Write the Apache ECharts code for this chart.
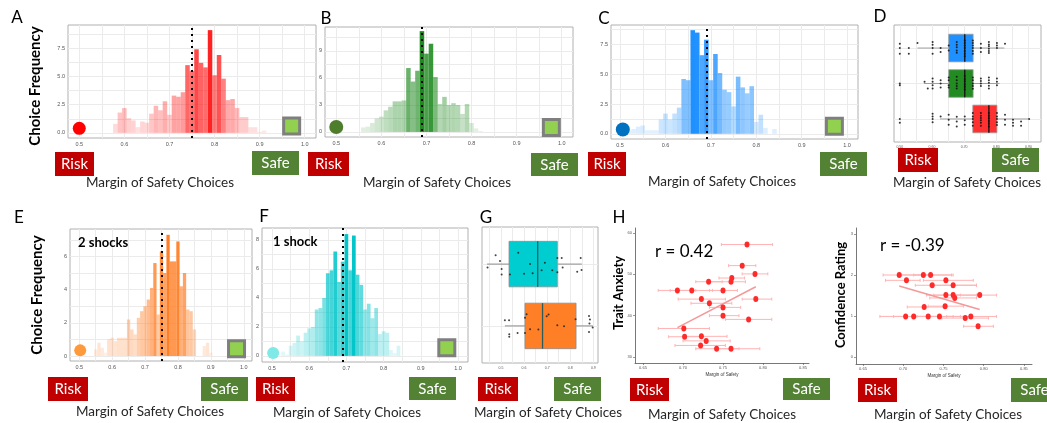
<!DOCTYPE html>
<html><head><meta charset="utf-8">
<script src="https://cdn.jsdelivr.net/npm/echarts@6/dist/echarts.min.js"></script>
<style>html,body{margin:0;padding:0;background:#fff}#c{width:1047px;height:423px}</style>
</head><body><div id="c"></div>
<script>
// ---------------- DATA ----------------
const binsA = [0.58,0.59,0.60,0.61,0.62,0.63,0.64,0.65,0.66,0.67,0.68,0.69,0.70,0.71,0.72,0.73,0.74,0.75,0.76,0.77,0.78,0.79,0.80,0.81,0.82,0.83,0.84,0.85,0.86,0.87,0.88,0.89,0.90,0.91];
const countsA = [0.8,1.8,2.2,1.3,1.1,0.5,1.0,0.9,1.7,2.4,2.0,2.8,1.6,3.3,3.2,3.6,6.0,5.5,7.4,6.2,5.8,9.1,5.1,6.9,4.8,2.9,3.0,2.2,1.4,1.4,0.5,0.5,0.1,0.2];
const binsB = [0.56,0.57,0.58,0.59,0.60,0.61,0.62,0.63,0.64,0.65,0.66,0.67,0.68,0.69,0.70,0.71,0.72,0.73,0.74,0.75,0.76,0.77,0.78,0.79,0.80,0.81,0.82];
const countsB = [0.5,0.6,1.0,1.5,1.7,2.4,2.8,3.4,3.4,3.5,7.1,5.6,6.8,11.2,8.7,9.8,6.1,3.1,3.9,3.0,3.2,3.0,2.0,3.1,1.0,0.4,0.1];
const binsC = [0.52,0.53,0.54,0.55,0.56,0.57,0.58,0.59,0.60,0.61,0.62,0.63,0.64,0.65,0.66,0.67,0.68,0.69,0.70,0.71,0.72,0.73,0.74,0.75,0.76,0.77,0.78,0.79,0.80,0.81,0.82,0.83,0.84];
const countsC = [0.3,0.4,0.6,0.7,0.3,0.3,0.3,1.2,1.7,1.2,1.7,2.2,4.6,4.5,8.7,8.5,6.6,7.9,4.5,6.7,5.1,3.7,3.5,2.3,4.8,3.9,3.4,4.0,1.0,1.6,0.5,0.0,0.4];
const binsE = [0.55,0.56,0.57,0.58,0.59,0.60,0.61,0.62,0.63,0.64,0.65,0.66,0.67,0.68,0.69,0.70,0.71,0.72,0.73,0.74,0.75,0.76,0.77,0.78,0.79,0.80,0.81,0.82,0.83,0.84,0.85,0.86,0.87,0.88,0.89,0.90];
const countsE = [0.4,0.8,0.5,0.2,1.0,1.1,0.9,1.1,1.1,1.1,2.2,1.6,1.3,2.3,2.7,3.0,3.4,4.1,5.6,2.5,6.3,5.0,7.3,5.7,5.7,6.9,4.2,5.0,2.8,2.7,1.6,0,0,0.6,0.8,0.2];
const binsF = [0.53,0.54,0.55,0.56,0.57,0.58,0.59,0.60,0.61,0.62,0.63,0.64,0.65,0.66,0.67,0.68,0.69,0.70,0.71,0.72,0.73,0.74,0.75,0.76,0.77,0.78,0.79,0.80,0.81,0.82,0.83,0.84];
const countsF = [0.3,0.1,0.7,0.9,1.4,1.0,1.6,1.9,2.0,3.2,3.3,4.0,5.7,5.9,7.2,5.1,6.5,8.4,5.9,8.3,5.6,4.9,3.2,3.6,2.6,3.3,1.5,1.7,1.6,0.4,0.2,0.7];
const meanA = 0.752, meanB = 0.690, meanC = 0.691, meanE = 0.7525, meanF = 0.690;
const riskPtA = [0.5, 0.4], safePtA = [0.971, 0.6];
const riskPtB = [0.5, 0.55], safePtB = [0.977, 0.5];
const riskPtC = [0.506, 0.36], safePtC = [0.972, 0.64];
const riskPtE = [0.503, 0.34], safePtE = [0.978, 0.44];
const riskPtF = [0.503, 0.2], safePtF = [0.97, 0.56];

const histXTicks = [0.5,0.6,0.7,0.8,0.9,1.0];
const histXGrid = [0.5,0.55,0.6,0.65,0.7,0.75,0.8,0.85,0.9,0.95,1.0];
const yTicksA = [0,2.5,5,7.5], yGridA = [0,1.25,2.5,3.75,5,6.25,7.5,8.75];
const yTicksB = [0,3,6,9], yGridB = [0,1.5,3,4.5,6,7.5,9,10.5];
const yTicksE = [0,2,4,6], yGridE = [0,1,2,3,4,5,6,7];
const yTicksF = [0,2,4,6,8], yGridF = [0,1,2,3,4,5,6,7,8];

// Panel D: box stats [group, lo, q1, median, q3, hi]
const dStats = [[3,0.555,0.652,0.702,0.728,0.825],[2,0.575,0.652,0.702,0.728,0.81],[1,0.625,0.727,0.777,0.802,0.90]];
const dBlueX = [0.5,0.5,0.5,0.528,0.528,0.555,0.602,0.602,0.602,0.602,0.627,0.627,0.652,0.652,0.677,0.677,0.677,0.677,0.677,0.702,0.702,0.702,0.702,0.702,0.702,0.702,0.727,0.727,0.727,0.727,0.727,0.727,0.752,0.752,0.752,0.777,0.777,0.777,0.777,0.777,0.777,0.802,0.802,0.802,0.827];
const dBlueJ = [0.12,0,-0.16,0,-0.16,0.14,0.17,0.09,0,-0.16,0,-0.11,0.07,-0.07,0.17,0.09,0.02,-0.07,-0.13,0.21,0.14,0.07,0,-0.08,-0.16,-0.23,0.21,0.14,0.07,0,-0.08,-0.16,0.12,0,-0.11,0.17,0.10,0.05,-0.02,-0.08,-0.14,0.14,0.07,0,0.12];
const dGreenX = [0.5,0.5,0.577,0.587,0.602,0.602,0.602,0.602,0.627,0.627,0.627,0.652,0.652,0.652,0.652,0.677,0.677,0.677,0.677,0.677,0.702,0.702,0.702,0.702,0.702,0.702,0.727,0.727,0.727,0.727,0.727,0.752,0.752,0.752,0.752,0.777,0.777,0.777,0.777,0.777,0.802,0.802,0.802];
const dGreenJ = [0,-0.05,0.05,-0.14,0.14,0.05,-0.05,-0.14,0.09,0,-0.11,0.17,0.09,-0.05,-0.11,0.19,0.09,0,-0.07,-0.14,0.21,0.13,0.06,-0.02,-0.09,-0.17,0.17,0.09,0,-0.07,-0.15,0.14,0.07,0,-0.07,0.17,0.09,0.02,-0.06,-0.14,0.14,0.05,-0.05];
const dRedX = [0.5,0.5,0.602,0.602,0.602,0.602,0.627,0.652,0.652,0.652,0.677,0.677,0.677,0.702,0.702,0.702,0.727,0.727,0.727,0.727,0.727,0.752,0.752,0.752,0.752,0.752,0.752,0.777,0.777,0.777,0.777,0.777,0.777,0.802,0.802,0.802,0.802,0.802,0.827,0.827,0.827,0.852,0.852,0.852,0.877,0.877,0.902];
const dRedJ = [0,-0.11,0.15,0.07,0,-0.09,0.07,0.12,-0.02,-0.16,0.06,-0.07,-0.21,0.07,-0.04,-0.16,0.17,0.07,0,-0.09,-0.19,0.17,0.09,0.03,-0.04,-0.11,-0.19,0.17,0.09,0.02,-0.06,-0.13,-0.21,0.17,0.07,0,-0.09,-0.17,0.12,-0.02,-0.16,-0.02,-0.11,-0.19,-0.07,-0.19,0];
const dTicks = [0.5,0.6,0.7,0.8,0.9];
const dGrid = [0.5,0.55,0.6,0.65,0.7,0.75,0.8,0.85,0.9];

// Panel G
const gStats = [[2,0.44,0.535,0.659,0.744,0.85],[1,0.517,0.604,0.680,0.825,0.898]];
const gCyanX = [0.477,0.496,0.442,0.503,0.503,0.575,0.539,0.600,0.626,0.637,0.690,0.676,0.722,0.744,0.763,0.767,0.744,0.830,0.849,0.845];
const gCyanJ = [0.145,0.048,-0.054,-0.081,-0.167,0.183,-0.167,-0.156,0,-0.15,0.02,-0.10,-0.10,0.10,0.10,-0.054,-0.134,-0.124,-0.097,0.10];
const gOrangeX = [0.517,0.535,0.536,0.536,0.572,0.604,0.611,0.604,0.626,0.662,0.698,0.706,0.744,0.773,0.823,0.881,0.885,0.883,0.897,0.881];
const gOrangeJ = [0.091,0.091,-0.134,-0.177,-0.113,0.134,0.188,-0.113,-0.054,-0.059,0.156,0.183,0.01,-0.005,0.108,0.161,0.102,0.038,-0.027,-0.097];
const gTicks = [0.5,0.6,0.7,0.8,0.9];
const gGrid = [0.45,0.5,0.55,0.6,0.65,0.7,0.75,0.8,0.85,0.9];

// Panel H (trait anxiety)
const h1X = [0.780,0.774,0.790,0.761,0.760,0.732,0.693,0.711,0.750,0.723,0.733,0.791,0.750,0.750,0.782,0.701,0.702,0.723,0.729,0.722,0.742,0.760];
const h1Y = [57.2,52.1,50.1,49.1,48.2,48.2,46.1,46.1,46.1,44.0,43.0,44.0,42.0,40.0,39.1,36.9,34.9,35.0,33.9,32.8,32.0,32.0];
const h1Lo = [0.748,0.757,0.774,0.745,0.733,0.716,0.669,0.684,0.733,0.694,0.710,0.774,0.733,0.733,0.753,0.669,0.682,0.702,0.700,0.690,0.716,0.741];
const h1Hi = [0.812,0.791,0.806,0.777,0.778,0.749,0.716,0.737,0.768,0.753,0.761,0.811,0.772,0.770,0.811,0.733,0.723,0.755,0.759,0.753,0.770,0.796];
const h1Fit = [[0.693,37.1],[0.791,47.0]];
const h1YTicks = [30,40,50,60];
// Panel H (confidence)
const h2X = [0.695,0.725,0.734,0.704,0.753,0.736,0.762,0.753,0.762,0.764,0.795,0.726,0.752,0.703,0.713,0.731,0.745,0.777,0.784,0.793];
const h2Y = [2.0,2.0,2.0,1.87,1.87,1.75,1.75,1.51,1.51,1.44,1.51,1.22,1.24,0.99,0.99,0.99,0.99,0.95,0.99,0.75];
const h2Lo = [0.675,0.698,0.713,0.678,0.725,0.715,0.733,0.729,0.738,0.733,0.762,0.705,0.731,0.671,0.688,0.711,0.717,0.748,0.754,0.775];
const h2Hi = [0.733,0.760,0.762,0.721,0.787,0.791,0.791,0.771,0.791,0.791,0.816,0.754,0.775,0.733,0.746,0.762,0.771,0.806,0.816,0.812];
const h2Fit = [[0.695,1.73],[0.795,1.16]];
const h2YTicks = [0,1,2,3];
const hXTicks = [0.65,0.70,0.75,0.80,0.85];

// ---------------- LAYOUT ----------------
const grids = [
 {left:68, top:25, width:248, height:113},   // A 0
 {left:325, top:27, width:248, height:110},  // B 1
 {left:611, top:25, width:247, height:114},  // C 2
 {left:894, top:25, width:147, height:117},  // D 3
 {left:70, top:229, width:182, height:132},  // E 4
 {left:262, top:228, width:206, height:134}, // F 5
 {left:482, top:227, width:116, height:136}, // G 6
 {left:635, top:228, width:174, height:135}, // H1 7
 {left:856, top:228, width:176, height:136}  // H2 8
].map((g,i)=>Object.assign({show:i<7, borderColor:'#b0b0b0', borderWidth:1, backgroundColor:'#fff', containLabel:false}, g));

const xAxes = [], yAxes = [], series = [];
const GRIDC = '#ebebeb';
function fwAxis(gi, min, max, ticks, gridVals, fs, fmt, show) {
  return {type:'value', gridIndex:gi, min, max,
    axisLine:{show:false, onZero:false},
    axisTick:{show:false, customValues:gridVals},
    axisLabel:{show:show!==false, customValues:ticks, fontSize:fs, color:'#555', margin:3, formatter:fmt},
    splitLine:{show:true, lineStyle:{color:GRIDC, width:1}}};
}
function histPanel(gi, xr, yr, yTicks, yGrid, yFmt, bins, counts, color, mean, riskPt, riskSize, riskColor, safePt) {
  xAxes.push(fwAxis(gi,xr[0],xr[1],histXTicks,histXGrid,5.5,v=>v.toFixed(1)));
  yAxes.push(fwAxis(gi,yr[0],yr[1],yTicks,yGrid,5.5,yFmt));
  const mx = Math.max(...counts), mn = Math.min(...counts);
  series.push({type:'custom', xAxisIndex:gi, yAxisIndex:gi, z:2,
    data: bins.map((b,i)=>[b, counts[i]]),
    renderItem:(p, api)=>{
      const x = api.value(0), y = api.value(1);
      const a = api.coord([x-0.005, y]), b = api.coord([x+0.005, 0]);
      return {type:'rect', shape:{x:a[0], y:a[1], width:b[0]-a[0], height:b[1]-a[1]},
        style:{fill:color, opacity:0.1+0.9*(y-mn)/(mx-mn)}};
    }});
  series.push({type:'line', xAxisIndex:gi, yAxisIndex:gi, data:[], z:5,
    markLine:{silent:true, symbol:['none','none'], label:{show:false}, animation:false,
      lineStyle:{color:'#000', type:[2,4], width:2, cap:'butt'}, data:[{xAxis:mean}]}});
  series.push({type:'scatter', xAxisIndex:gi, yAxisIndex:gi, data:[riskPt], symbolSize:riskSize, itemStyle:{color:riskColor, opacity:1}, z:6});
  series.push({type:'scatter', xAxisIndex:gi, yAxisIndex:gi, data:[safePt], symbol:'rect', symbolSize:16,
    itemStyle:{color:'#92d050', borderColor:'#7f7f7f', borderWidth:3, opacity:1}, z:6});
}
histPanel(0,[0.475,1.025],[-0.455,9.555],yTicksA,yGridA,v=>v.toFixed(1),binsA,countsA,'#ff2222',meanA,riskPtA,13,'#ff0000',safePtA);
histPanel(1,[0.475,1.025],[-0.56,11.66],yTicksB,yGridB,v=>v.toFixed(0),binsB,countsB,'#1f8a1f',meanB,riskPtB,14,'#4e7d2c',safePtB);
histPanel(2,[0.48,1.024],[-0.435,9.135],yTicksA,yGridA,v=>v.toFixed(1),binsC,countsC,'#1e90ff',meanC,riskPtC,14,'#0070c0',safePtC);

// Panel D
xAxes.push(fwAxis(3,0.482,0.939,dTicks,dGrid,3.5,v=>v.toFixed(2)));
yAxes.push(fwAxis(3,0.35,3.65,[],[1,2,3],3.5,v=>v,false));

function boxSeries(gi, stats, colors, halfH, medColor, edgeColor) {
  return {type:'custom', xAxisIndex:gi, yAxisIndex:gi, z:3, data:stats,
    renderItem:(p, api)=>{
      const g = api.value(0), lo = api.value(1), q1 = api.value(2), md = api.value(3), q3 = api.value(4), hi = api.value(5);
      const c1 = api.coord([q1, g+halfH]), c3 = api.coord([q3, g-halfH]);
      const pl = api.coord([lo, g]), pq1 = api.coord([q1, g]), pq3 = api.coord([q3, g]), ph = api.coord([hi, g]);
      const m1 = api.coord([md, g+halfH]), m2 = api.coord([md, g-halfH]);
      return {type:'group', children:[
        {type:'line', shape:{x1:pl[0],y1:pl[1],x2:pq1[0],y2:pq1[1]}, style:{stroke:edgeColor, lineWidth:1}},
        {type:'line', shape:{x1:pq3[0],y1:pq3[1],x2:ph[0],y2:ph[1]}, style:{stroke:edgeColor, lineWidth:1}},
        {type:'rect', shape:{x:c1[0], y:c1[1], width:c3[0]-c1[0], height:c3[1]-c1[1]}, style:{fill:colors[p.dataIndex], stroke:edgeColor, lineWidth:0.8}},
        {type:'line', shape:{x1:m1[0],y1:m1[1],x2:m2[0],y2:m2[1]}, style:{stroke:medColor, lineWidth:1.3}}
      ]};
    }};
}
series.push(boxSeries(3, dStats, ['#1e90ff','#228b22','#ff3030'], 0.39, '#111', '#a0a0a0'));
function jitter(gi, xs, js, grp, size, color) {
  return {type:'scatter', xAxisIndex:gi, yAxisIndex:gi, z:4, symbolSize:size, itemStyle:{color, opacity:0.85},
    data: xs.map((v,i)=>[v, grp + js[i]])};
}
series.push(jitter(3, dBlueX, dBlueJ, 3, 2, '#111'));
series.push(jitter(3, dGreenX, dGreenJ, 2, 2, '#111'));
series.push(jitter(3, dRedX, dRedJ, 1, 2, '#111'));

histPanel(4,[0.472,1.025],[-0.3,7.65],yTicksE,yGridE,v=>v.toFixed(0),binsE,countsE,'#ff7f27',meanE,riskPtE,12,'#ff9a3c',safePtE);
histPanel(5,[0.473,1.027],[-0.42,8.82],yTicksF,yGridF,v=>v.toFixed(0),binsF,countsF,'#00c5c9',meanF,riskPtF,12,'#7ee9e6',safePtF);

// Panel G
xAxes.push(fwAxis(6,0.418,0.92,gTicks,gGrid,3.5,v=>v.toFixed(1)));
yAxes.push(fwAxis(6,0.4,2.6,[],[1,2],3.5,v=>v,false));
series.push(boxSeries(6, gStats, ['#00cdd0','#ff7f27'], 0.368, '#2b5b5b', '#8c8c8c'));
series.push(jitter(6, gCyanX, gCyanJ, 2, 2, '#222'));
series.push(jitter(6, gOrangeX, gOrangeJ, 1, 2, '#222'));

// Panel H
function classicAxis(gi, min, max, ticks, fmt, name) {
  return {type:'value', gridIndex:gi, min, max,
    axisLine:{show:true, onZero:false, lineStyle:{color:'#555', width:0.8}},
    axisTick:{show:true, length:2, customValues:ticks, lineStyle:{color:'#555', width:0.6}},
    axisLabel:{customValues:ticks, fontSize:4, color:'#555', margin:3, formatter:fmt},
    splitLine:{show:false},
    name: name || '', nameLocation:'middle', nameGap:9, nameTextStyle:{fontSize:4.5, color:'#333'}};
}
function scatterPanel(gi, xr, yr, yTicks, xs, ys, lo, hi, fit) {
  xAxes.push(classicAxis(gi, xr[0], xr[1], hXTicks, v=>v.toFixed(2), 'Margin of Safety'));
  yAxes.push(classicAxis(gi, yr[0], yr[1], yTicks, v=>String(v)));
  series.push({type:'custom', xAxisIndex:gi, yAxisIndex:gi, z:2,
    data: xs.map((v,i)=>[v, ys[i], lo[i], hi[i]]),
    renderItem:(p, api)=>{
      const y = api.value(1);
      const a = api.coord([api.value(2), y]), b = api.coord([api.value(3), y]);
      const st = {stroke:'#ffb3b3', lineWidth:1};
      return {type:'group', children:[
        {type:'line', shape:{x1:a[0],y1:a[1],x2:b[0],y2:b[1]}, style:st},
        {type:'line', shape:{x1:a[0],y1:a[1]-1.5,x2:a[0],y2:a[1]+1.5}, style:st},
        {type:'line', shape:{x1:b[0],y1:b[1]-1.5,x2:b[0],y2:b[1]+1.5}, style:st}
      ]};
    }});
  series.push({type:'line', xAxisIndex:gi, yAxisIndex:gi, data:fit, symbol:'none', z:3,
    lineStyle:{color:'#f4999a', width:1.5}});
  series.push({type:'scatter', xAxisIndex:gi, yAxisIndex:gi, z:4, symbolSize:[5,6],
    itemStyle:{color:'#ff2a2a', opacity:1}, data: xs.map((v,i)=>[v, ys[i]])});
}
scatterPanel(7,[0.64,0.8575],[28.55,61.2],h1YTicks,h1X,h1Y,h1Lo,h1Hi,h1Fit);
scatterPanel(8,[0.6413,0.86],[-0.17,3.146],h2YTicks,h2X,h2Y,h2Lo,h2Hi,h2Fit);

// ---------------- TEXT / DECORATION ----------------
const FONT = 'Lato, "Open Sans", sans-serif';
const graphic = [];
function txt(t, x, y, font, align, color, rot) {
  graphic.push({type:'text', x, y, silent:true, z:100, rotation:rot||0,
    style:{text:t, font:font+' '+FONT, fill:color||'#000', align:align||'center', verticalAlign:'middle'}});
}
function tag(x, y, w, h, color, t) {
  graphic.push({type:'rect', x, y, silent:true, z:100, shape:{x:0, y:0, width:w, height:h}, style:{fill:color}});
  graphic.push({type:'text', x:x+w/2, y:y+h/2+0.5, silent:true, z:101,
    style:{text:t, font:'15px '+FONT, fill:'#fff', align:'center', verticalAlign:'middle'}});
}
const RISK = '#c00000', SAFE = '#548235';
[['A',17,18],['B',326,19],['C',604,19],['D',880,17],['E',19,218],['F',264,217],['G',486,218],['H',619,218]]
  .forEach(l=>txt(l[0], l[1], l[2], '17px'));
txt('Choice Frequency', 35, 86, 'bold 15px', 'center', '#000', Math.PI/2);
txt('Choice Frequency', 37, 295, 'bold 15px', 'center', '#000', Math.PI/2);
txt('Trait Anxiety', 619, 293, 'bold 13px', 'center', '#000', Math.PI/2);
txt('Confidence Rating', 841, 295, 'bold 13px', 'center', '#000', Math.PI/2);

tag(55,152,39,24,RISK,'Risk');  tag(252,151,47,24,SAFE,'Safe');
tag(308,152,41,24,RISK,'Risk'); tag(531,153,47,23,SAFE,'Safe');
tag(588,152,38,24,RISK,'Risk'); tag(820,152,47,24,SAFE,'Safe');
tag(898,148,40,24,RISK,'Risk'); tag(992,148,47,24,SAFE,'Safe');
tag(48,377,40,24,RISK,'Risk');  tag(201,377,47,24,SAFE,'Safe');
tag(256,377,39,24,RISK,'Risk'); tag(409,377,47,23,SAFE,'Safe');
tag(478,377,40,24,RISK,'Risk'); tag(554,377,47,24,SAFE,'Safe');
tag(630,378,39,23,RISK,'Risk'); tag(783,378,47,22,SAFE,'Safe');
tag(858,378,39,24,RISK,'Risk'); tag(1011,378,47,24,SAFE,'Safe');

[[160,183],[437,183],[722,182],[967,183],[150,412],[347,413],[548,413],[722,415],[948,415]]
  .forEach(p=>txt('Margin of Safety Choices', p[0], p[1], '13.5px', 'center', '#262626'));

txt('2 shocks', 78, 243, 'bold 13px', 'left');
txt('1 shock', 273, 242, 'bold 13px', 'left');
txt('r = 0.42', 655, 252, '17px', 'left');
txt('r = -0.39', 880, 246, '17px', 'left');

const chart = echarts.init(document.getElementById('c'), null, {renderer:'canvas'});
chart.setOption({
  animation:false,
  backgroundColor:'#fff',
  grid: grids, xAxis: xAxes, yAxis: yAxes, series, graphic
});
</script></body></html>
